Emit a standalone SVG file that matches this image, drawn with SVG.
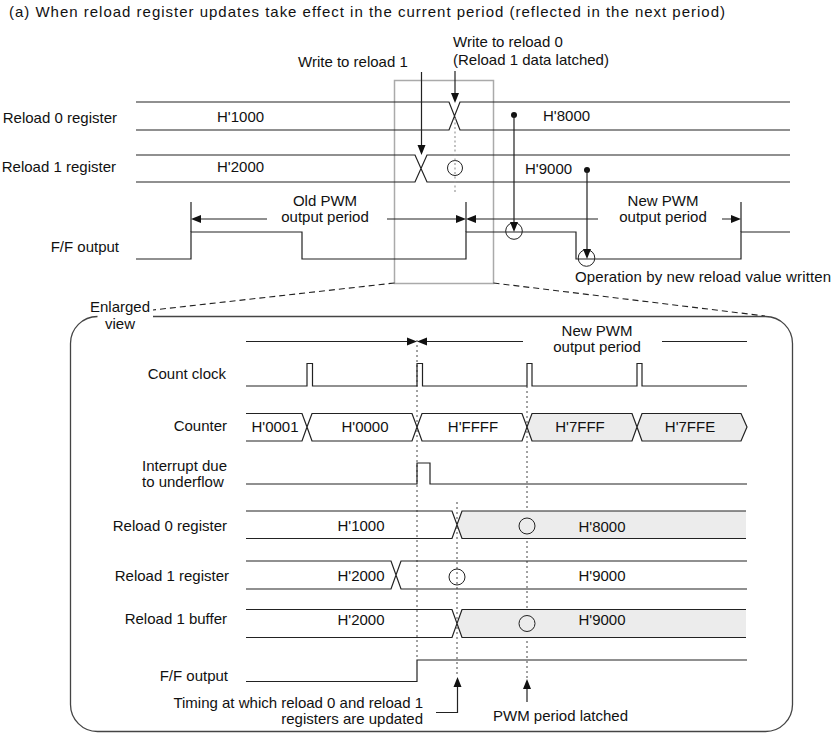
<svg xmlns="http://www.w3.org/2000/svg" width="837" height="733" viewBox="0 0 837 733">
<style>
text{font-family:"Liberation Sans",Arial,sans-serif;font-size:15px;fill:#111}
.e{text-anchor:end}.m{text-anchor:middle}
.s{fill:none;stroke:#222;stroke-width:1.2}
.g{fill:#ececec;stroke:none}
.dot{fill:none;stroke:#444;stroke-width:1;stroke-dasharray:2 3}
.dotg{fill:none;stroke:#999;stroke-width:1.2;stroke-dasharray:2 2.5}
.dash{fill:none;stroke:#222;stroke-width:1.1;stroke-dasharray:6 4}
.ah{fill:#111;stroke:none}
.c{fill:none;stroke:#222;stroke-width:1}
</style>
<rect width="837" height="733" fill="#fff"/>
<text x="9" y="17" textLength="716" lengthAdjust="spacing">(a) When reload register updates take effect in the current period (reflected in the next period)</text>

<g id="zoom-box"><rect x="394.5" y="80.5" width="99" height="203" fill="none" stroke="#aaa" stroke-width="1.5"/></g>

<g id="top-reload0">
<text class="e" x="117" y="123">Reload 0 register</text>
<path class="s" d="M136 102H449L460 130H790M136 130H449L460 102H790"/>
<text x="217" y="122">H'1000</text><text x="543" y="121">H'8000</text>
</g>
<g id="top-reload1">
<text class="e" x="116" y="172">Reload 1 register</text>
<path class="s" d="M136 155H415L427 182H790M136 182H415L427 155H790"/>
<text x="217" y="172">H'2000</text><text x="525" y="174">H'9000</text>
<circle class="c" cx="455" cy="168" r="7.5"/>
</g>
<g id="top-ff">
<text class="e" x="119" y="252">F/F output</text>
<path class="s" d="M136 259H191V232H302V259H466V232H576V259H741V232H790"/>
<circle class="c" cx="514" cy="231" r="8.3"/>
<circle class="c" cx="586.5" cy="258" r="8.3"/>
</g>
<g id="top-labels">
<text x="298" y="67">Write to reload 1</text>
<text x="453" y="47">Write to reload 0</text>
<text x="453" y="65">(Reload 1 data latched)</text>
<text class="m" x="325" y="206">Old PWM</text><text class="m" x="325" y="222">output period</text>
<text class="m" x="663" y="206">New PWM</text><text class="m" x="663" y="222">output period</text>
<text x="575" y="282" textLength="256" lengthAdjust="spacing">Operation by new reload value written</text>
</g>

<g id="connectors">
<path class="dotg" d="M455 118V193"/>
<path class="s" d="M421.5 72V146M455 71V94"/>
<path class="ah" d="M421.5 155l-4-10h8zM455 103l-4-10h8z"/>
<circle class="ah" cx="514" cy="115" r="3"/>
<circle class="ah" cx="587" cy="170" r="3"/>
<path class="s" d="M514 115V223M587 170V250"/>
<path class="ah" d="M514 232l-4-10h8zM587 259l-4-10h8z"/>
<path class="s" d="M191 202V232M466 202V232M741 202V232"/>
<path class="s" d="M200 219H267M387 219H456M476 219H598M722 219H731"/>
<path class="ah" d="M191 219l10-4v8zM466 219l-10-4v8zM466 219l10-4v8zM741 219l-10-4v8z"/>
<path class="dash" d="M394.5 283L153 310M493.5 283L765 316"/>

<path class="s" d="M246 341.5H407M427 341.5H523M662 341.5H747"/>
<path class="ah" d="M417 341.5l-10-4v8zM417 341.5l10-4v8z"/>
<path class="dot" d="M417 340V660M527 386V678M457 502V677"/>
<path class="s" d="M436 712.5H457.5V686M527 702V688"/>
<path class="ah" d="M457.5 677l-4 10h8zM527 679l-4 10h8z"/>
</g>

<g id="enlarged-frame">
<path fill="none" stroke="#444" stroke-width="1.3" d="M153 316.5H765.5A27 27 0 0 1 792.5 343.5V704.5A27 27 0 0 1 765.5 731.5H97.5A27 27 0 0 1 70.5 704.5V343.5A27 27 0 0 1 97.5 316.5"/>
<text class="m" x="120" y="312">Enlarged</text>
<text class="m" x="120" y="328.5">view</text>
</g>

<g id="period-label">
<text class="m" x="597" y="336">New PWM</text><text class="m" x="597" y="352">output period</text>
</g>

<g id="count-clock">
<text class="e" x="226" y="379">Count clock</text>
<path class="s" d="M246 386H307V363.5H312.5V386H417V363.5H422.5V386H527V363.5H532V386H637V363.5H642V386H747"/>
</g>

<g id="counter">
<text class="e" x="227" y="431">Counter</text>
<path class="g" d="M527 427L532 413.5H632L637 427L632 441H532ZM637 427L642 413.5H741L747 427L741 441H642Z"/>
<path class="s" d="M246 413.5H302L307 427L302 441H246M307 427L312 413.5H412L417 427L412 441H312ZM417 427L422 413.5H522L527 427L522 441H422ZM527 427L532 413.5H632L637 427L632 441H532ZM637 427L642 413.5H741L747 427L741 441H642Z"/>
<text class="m" x="275" y="432">H'0001</text><text class="m" x="365" y="432">H'0000</text><text class="m" x="473" y="432">H'FFFF</text><text class="m" x="580" y="432">H'7FFF</text><text class="m" x="690" y="432">H'7FFE</text>
</g>

<g id="interrupt">
<text x="142" y="471">Interrupt due</text><text x="142" y="487">to underflow</text>
<path class="s" d="M246 484H417V463H430V484H747"/>
</g>

<g id="reload0">
<text class="e" x="227" y="531">Reload 0 register</text>
<path class="g" d="M457 525L462 511H746V538.5H462Z"/>
<path class="s" d="M246 511H452L462 538.5H746M246 538.5H452L462 511H746"/>
<text class="m" x="361" y="531">H'1000</text><text class="m" x="602" y="532">H'8000</text>
<circle class="c" cx="527" cy="526" r="8"/>
</g>

<g id="reload1">
<text class="e" x="229" y="581">Reload 1 register</text>
<path class="s" d="M246 561H391L401 589H747M246 589H391L401 561H747"/>
<text class="m" x="361" y="581">H'2000</text><text class="m" x="602" y="581">H'9000</text>
<circle class="c" cx="457" cy="577" r="8"/>
</g>

<g id="reload1-buffer">
<text class="e" x="227" y="624">Reload 1 buffer</text>
<path class="g" d="M457 623.5L462 609.5H746V637.5H462Z"/>
<path class="s" d="M246 609.5H452L462 637.5H746M246 637.5H452L462 609.5H746"/>
<text class="m" x="361" y="625">H'2000</text><text class="m" x="602" y="625">H'9000</text>
<circle class="c" cx="527" cy="623.5" r="8"/>
</g>

<g id="ff-output">
<text class="e" x="228" y="681">F/F output</text>
<path class="s" d="M246 681.5H417V660H747"/>
</g>

<g id="notes">
<text class="e" x="423" y="708">Timing at which reload 0 and reload 1</text>
<text class="e" x="423" y="724">registers are updated</text>
<text x="493" y="721">PWM period latched</text>
</g>
</svg>
